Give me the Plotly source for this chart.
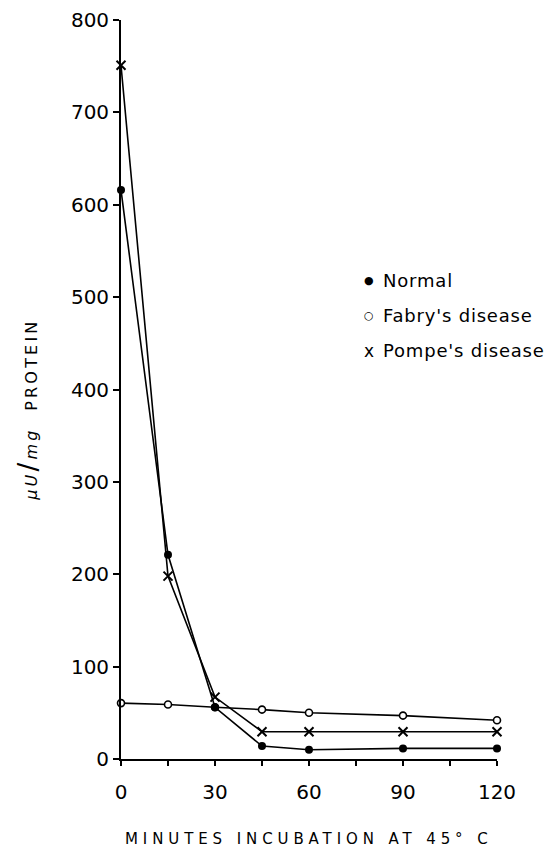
import plotly.graph_objects as go

minutes = [0, 15, 30, 45, 60, 90, 120]
normal = [616, 221, 56, 14, 10, 11.5, 11.5]
fabry = [60.5, 59, 56, 53.5, 50, 47, 42]
pompe = [751, 198, 67, 29.5, 29.5, 29.5, 29.5]

series_names = ["Normal", "Fabry's disease", "Pompe's disease"]
legend_symbols = ["●", "○", "x"]
legend_y = [518, 480, 442]

x_ticks = [0, 30, 60, 90, 120]
x_minor = [15, 45, 75, 105]
y_ticks = [0, 100, 200, 300, 400, 500, 600, 700, 800]

FONT = "DejaVu Sans"

fig = go.Figure()
fig.add_trace(go.Scatter(
    x=minutes, y=fabry, mode="lines+markers", name=series_names[1],
    line=dict(color="black", width=1.6),
    marker=dict(symbol="circle", size=7, color="white", line=dict(color="black", width=1.6)),
    cliponaxis=False, showlegend=False))
fig.add_trace(go.Scatter(
    x=minutes, y=pompe, mode="lines+markers", name=series_names[2],
    line=dict(color="black", width=1.6),
    marker=dict(symbol="x-thin", size=9, color="black", line=dict(color="black", width=2)),
    cliponaxis=False, showlegend=False))
fig.add_trace(go.Scatter(
    x=minutes, y=normal, mode="lines+markers", name=series_names[0],
    line=dict(color="black", width=1.6),
    marker=dict(symbol="circle", size=8, color="black"),
    cliponaxis=False, showlegend=False))

annotations = []
for sym, name, yy in zip(legend_symbols, series_names, legend_y):
    annotations.append(dict(x=79, y=yy, xref="x", yref="y", text=sym, showarrow=False,
                            xanchor="center", yanchor="middle",
                            font=dict(family=FONT, size=11 if sym != "x" else 17, color="black")))
    annotations.append(dict(x=83, y=yy, xref="x", yref="y",
                            text='<span style="letter-spacing:0.8px">' + name + '</span>',
                            showarrow=False, xanchor="left", yanchor="middle",
                            font=dict(family=FONT, size=18, color="black")))

annotations.append(dict(x=60, y=0, xref="x", yref="paper", yshift=-80,
                        text='<span style="letter-spacing:4.9px">MINUTES INCUBATION AT 45° C</span>',
                        showarrow=False, xanchor="center", yanchor="middle",
                        font=dict(family=FONT, size=15, color="black")))
annotations.append(dict(x=0, y=378, xref="paper", yref="y", xshift=-93,
                        text='<span style="letter-spacing:3.2px"><i>μU</i><span style="font-size:26px">/</span><i>mg</i>  PROTEIN</span>',
                        textangle=-90,
                        showarrow=False, xanchor="center", yanchor="middle",
                        font=dict(family=FONT, size=16, color="black")))

# the page body adds an 8px offset, so margins are shifted to keep the plot in place
fig.update_layout(
    width=552, height=847,
    margin=dict(l=113, r=63, t=12, b=96),
    paper_bgcolor="white", plot_bgcolor="white",
    font=dict(family=FONT, size=20, color="black"),
    annotations=annotations,
    xaxis=dict(range=[0, 120], tickvals=x_ticks, ticktext=[str(v) for v in x_ticks],
               automargin=False,
               showline=True, linecolor="black", linewidth=1.8, showgrid=False, zeroline=False,
               ticks="outside", ticklen=5, tickwidth=1.5, tickcolor="black",
               ticklabelstandoff=9, ticklabeloverflow="allow",
               minor=dict(tickvals=x_minor, ticks="outside", ticklen=5, tickwidth=1.5,
                          tickcolor="black", showgrid=False),
               tickfont=dict(family=FONT, size=20)),
    yaxis=dict(range=[0, 800], tickvals=y_ticks, ticktext=[str(v) for v in y_ticks],
               automargin=False,
               showline=True, linecolor="black", linewidth=1.8, showgrid=False, zeroline=False,
               ticks="outside", ticklen=6, tickwidth=1.5, tickcolor="black",
               ticklabeloverflow="allow",
               tickfont=dict(family=FONT, size=20)),
)

fig.write_html("out.html")
